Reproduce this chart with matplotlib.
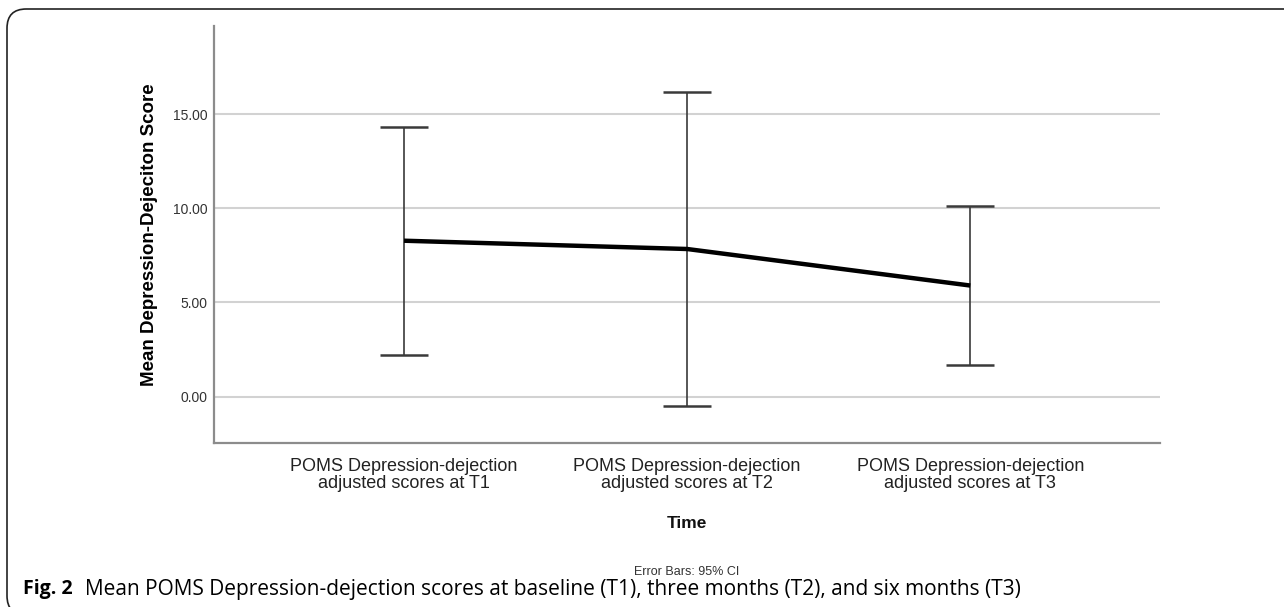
import matplotlib.pyplot as plt
from matplotlib.patches import FancyBboxPatch

# values
categories = ["POMS Depression-dejection\nadjusted scores at T1",
              "POMS Depression-dejection\nadjusted scores at T2",
              "POMS Depression-dejection\nadjusted scores at T3"]
means = [8.28, 7.84, 5.90]
ci_low = [2.21, -0.51, 1.69]
ci_high = [14.32, 16.15, 10.14]
yticks = [0, 5, 10, 15]
ytick_labels = ["0.00", "5.00", "10.00", "15.00"]

plt.rcParams['font.family'] = ['Liberation Sans', 'DejaVu Sans']

fig = plt.figure(figsize=(12.84, 6.07), dpi=100)
ax = fig.add_axes([214/1284, 1 - 443/607, (1160 - 214)/1284, (443 - 26)/607])

x = list(range(len(categories)))
yerr = [[m - lo for m, lo in zip(means, ci_low)],
        [hi - m for m, hi in zip(means, ci_high)]]

ax.errorbar(x, means, yerr=yerr, fmt='none', ecolor='#3a3a3a',
            elinewidth=1.2, capsize=17, capthick=1.8, zorder=3)
ax.plot(x, means, color='black', lw=3.2, zorder=4, solid_capstyle='butt')

ax.set_xlim(-0.671, 2.67)
ax.set_ylim(-2.46, 19.68)
ax.set_yticks(yticks)
ax.set_yticklabels(ytick_labels, fontsize=10, color='#333333')
ax.set_xticks(x)
ax.set_xticklabels(categories, fontsize=13, color='#222222', linespacing=0.95)
ax.tick_params(axis='both', length=0)
ax.tick_params(axis='y', pad=4.5)
ax.tick_params(axis='x', pad=11)

ax.grid(axis='y', color='#d2d2d2', lw=1.5)
ax.set_axisbelow(True)
for s in ['top', 'right']:
    ax.spines[s].set_visible(False)
for s in ['left', 'bottom']:
    ax.spines[s].set_color('#8c8c8c')
    ax.spines[s].set_linewidth(1.6)

ax.set_ylabel('Mean Depression-Dejeciton Score', fontsize=13.5, fontweight='bold', labelpad=11)

fig.text(687/1284, 1 - 523/607, 'Time', ha='center', va='center',
         fontsize=12.5, fontweight='bold', color='#111111')
fig.text(687/1284, 1 - 572/607, 'Error Bars: 95% CI', ha='center', va='center',
         fontsize=9, color='#333333')

# caption
fig.text(23/1284, 1 - 589/607, 'Fig. 2', ha='left', va='center',
         fontsize=14, fontweight='bold', family=['Open Sans', 'DejaVu Sans'])
fig.text(85/1284, 1 - 589/607,
         'Mean POMS Depression-dejection scores at baseline (T1), three months (T2), and six months (T3)',
         ha='left', va='center', fontsize=15, family=['Open Sans', 'DejaVu Sans'])

# rounded frame around the figure
frame = FancyBboxPatch((7/1284, -8/607), 1.2, (607 - 9 + 8)/607,
                       boxstyle='round,pad=0,rounding_size=0.015',
                       transform=fig.transFigure, fill=False,
                       edgecolor='#222222', lw=1.2, mutation_aspect=1284/607)
fig.patches.append(frame)

fig.savefig('out.png', dpi=100)
